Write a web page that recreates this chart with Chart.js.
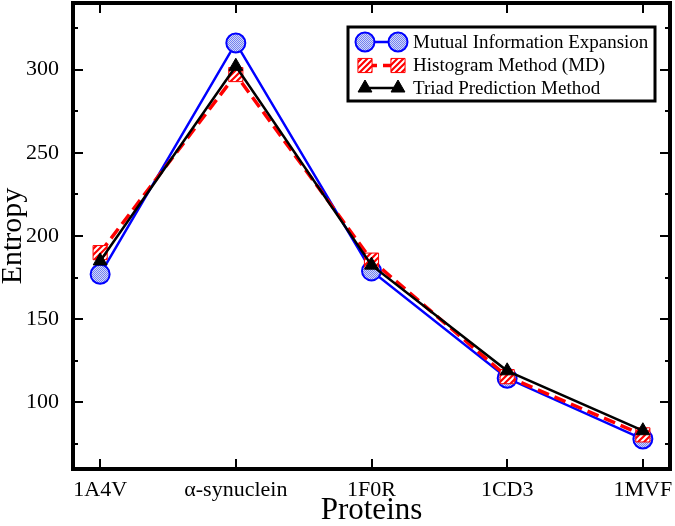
<!DOCTYPE html>
<html>
<head>
<meta charset="utf-8">
<script src="https://cdn.jsdelivr.net/npm/chart.js@4"></script>
<style>
html, body { margin: 0; padding: 0; background: #fff; }
</style>
</head>
<body>
<canvas id="myChart" width="675" height="526"></canvas>
<script>
const proteins = ['1A4V', 'α-synuclein', '1F0R', '1CD3', '1MVF']
const mutualInfo = [177, 316, 179, 114.5, 78]
const histogram = [190, 297, 185.5, 115.5, 80.5]
const triad = [185, 302, 182.5, 119, 83]
const seriesNames = ['Mutual Information Expansion', 'Histogram Method (MD)', 'Triad Prediction Method']
const yMajor = [100, 150, 200, 250, 300]
const yMinor = [75, 125, 175, 225, 275, 325]

const serif = '"Liberation Serif", "DejaVu Serif", serif'

// blue stipple fill for the circles
function dotPattern(){
  const c = document.createElement('canvas')
  c.width = 2; c.height = 2
  const g = c.getContext('2d')
  g.fillStyle = '#d2d8fa'
  g.fillRect(0, 0, 2, 2)
  g.fillStyle = '#7482ee'
  g.fillRect(0, 0, 1, 1)
  g.fillRect(1, 1, 1, 1)
  return g.createPattern(c, 'repeat')
}

// red / white hatching for the squares
function stripePattern(){
  const c = document.createElement('canvas')
  c.width = 6; c.height = 6
  const g = c.getContext('2d')
  g.fillStyle = '#fff'
  g.fillRect(0, 0, 6, 6)
  g.strokeStyle = '#ff0000'
  g.lineWidth = 2.2
  g.beginPath()
  g.moveTo(-1, 7); g.lineTo(7, -1)
  g.moveTo(-1, 1); g.lineTo(1, -1)
  g.moveTo(5, 7); g.lineTo(7, 5)
  g.stroke()
  return g.createPattern(c, 'repeat')
}

const dots = dotPattern()
const stripes = stripePattern()
const toPoints = arr => arr.map((v, i) => ({x: i, y: v}))

const datasets = [
  {
    label: seriesNames[0],
    data: toPoints(mutualInfo),
    borderColor: '#0000ff',
    borderWidth: 2.5,
    pointStyle: 'circle',
    pointRadius: 9.5,
    pointBorderWidth: 2,
    pointBorderColor: '#0000ff',
    pointBackgroundColor: dots,
    order: 3
  },
  {
    label: seriesNames[1],
    data: toPoints(histogram),
    borderColor: '#ff0000',
    borderWidth: 3.5,
    borderDash: [12, 6],
    pointStyle: 'rect',
    pointRadius: 10,
    pointBorderWidth: 1,
    pointBorderColor: '#ff0000',
    pointBackgroundColor: stripes,
    order: 2
  },
  {
    label: seriesNames[2],
    data: toPoints(triad),
    borderColor: '#000000',
    borderWidth: 2.5,
    pointStyle: 'triangle',
    pointRadius: 8,
    pointBorderWidth: 1,
    pointBorderColor: '#000000',
    pointBackgroundColor: '#000000',
    order: 1
  }
]

// closed frame with inward ticks on all four sides
const frame = {
  id: 'frame',
  beforeDatasetsDraw(chart){
    const {ctx, chartArea: a, scales: {x, y}} = chart
    ctx.save()
    ctx.strokeStyle = '#000'
    ctx.lineWidth = 2
    ctx.beginPath()
    yMajor.concat(yMinor).forEach(v => {
      const py = Math.round(y.getPixelForValue(v))
      const len = yMajor.includes(v) ? 10 : 5
      ctx.moveTo(a.left, py); ctx.lineTo(a.left + len, py)
      ctx.moveTo(a.right, py); ctx.lineTo(a.right - len, py)
    })
    proteins.forEach((p, i) => {
      const px = Math.round(x.getPixelForValue(i))
      ctx.moveTo(px, a.bottom); ctx.lineTo(px, a.bottom - 10)
      ctx.moveTo(px, a.top); ctx.lineTo(px, a.top + 10)
    })
    ctx.stroke()
    ctx.lineWidth = 4
    ctx.strokeRect(a.left, a.top, a.right - a.left, a.bottom - a.top)
    ctx.restore()
  }
}

function marker(ctx, ds, px, py){
  const r = ds.pointRadius
  ctx.save()
  ctx.fillStyle = ds.pointBackgroundColor
  ctx.strokeStyle = ds.pointBorderColor
  ctx.lineWidth = ds.pointBorderWidth
  ctx.beginPath()
  if(ds.pointStyle == 'circle'){
    ctx.arc(px, py, r, 0, Math.PI * 2)
  } else if(ds.pointStyle == 'rect'){
    const s = r * Math.SQRT1_2
    ctx.rect(px - s, py - s, 2 * s, 2 * s)
  } else {
    let a = 0
    ctx.moveTo(px + Math.sin(a) * r, py - Math.cos(a) * r)
    a += Math.PI * 2 / 3
    ctx.lineTo(px + Math.sin(a) * r, py - Math.cos(a) * r)
    a += Math.PI * 2 / 3
    ctx.lineTo(px + Math.sin(a) * r, py - Math.cos(a) * r)
    ctx.closePath()
  }
  ctx.fill()
  ctx.stroke()
  ctx.restore()
}

// boxed legend inside the plot, top right
const legendBox = {
  id: 'legendBox',
  afterDraw(chart){
    const ctx = chart.ctx
    const bx = 348, by = 27, bw = 307, bh = 74
    const rows = [42, 65.5, 88]
    ctx.save()
    ctx.fillStyle = '#fff'
    ctx.fillRect(bx, by, bw, bh)
    ctx.lineWidth = 3
    ctx.strokeStyle = '#000'
    ctx.strokeRect(bx, by, bw, bh)
    chart.data.datasets.forEach((ds, i) => {
      const cy = rows[i]
      ctx.save()
      ctx.strokeStyle = ds.borderColor
      ctx.lineWidth = ds.borderWidth
      ctx.setLineDash(ds.borderDash || [])
      ctx.beginPath()
      ctx.moveTo(365, cy)
      ctx.lineTo(398, cy)
      ctx.stroke()
      ctx.restore()
      marker(ctx, ds, 365, cy)
      marker(ctx, ds, 398, cy)
      ctx.fillStyle = '#000'
      ctx.font = '19px ' + serif
      ctx.textBaseline = 'middle'
      ctx.textAlign = 'left'
      ctx.fillText(ds.label, 413, cy + 1)
    })
    ctx.restore()
  }
}

Chart.defaults.color = '#000'

const chart = new Chart('myChart', {
  type: 'line',
  data: {datasets: datasets},
  plugins: [frame, legendBox],
  options: {
    responsive: false,
    animation: false,
    layout: {autoPadding: false, padding: {top: 3, right: 5, left: 0, bottom: 0}},
    plugins: {
      legend: {display: false},
      tooltip: {enabled: false}
    },
    scales: {
      x: {
        type: 'linear',
        min: -0.2,
        max: 4.2,
        grid: {display: false},
        border: {display: false},
        afterBuildTicks: s => { s.ticks = proteins.map((p, i) => ({value: i})) },
        afterFit: s => {
          s.height = 57
          s.paddingLeft = 0
          s.paddingRight = 0
        },
        ticks: {
          autoSkip: false,
          maxRotation: 0,
          padding: 0,
          font: {family: serif, size: 22},
          callback: v => proteins[v]
        },
        title: {
          display: true,
          text: 'Proteins',
          padding: 0,
          font: {family: serif, size: 31, lineHeight: 1}
        }
      },
      y: {
        min: 60,
        max: 340,
        grid: {display: false},
        border: {display: false},
        afterBuildTicks: s => { s.ticks = yMajor.map(v => ({value: v})) },
        afterFit: s => {
          s.width = 73
          s.paddingTop = 0
          s.paddingBottom = 0
        },
        ticks: {
          padding: 6,
          font: {family: serif, size: 22}
        },
        title: {
          display: true,
          text: 'Entropy',
          padding: 0,
          font: {family: serif, size: 30, lineHeight: 0.9}
        }
      }
    }
  }
})
</script>
</body>
</html>
